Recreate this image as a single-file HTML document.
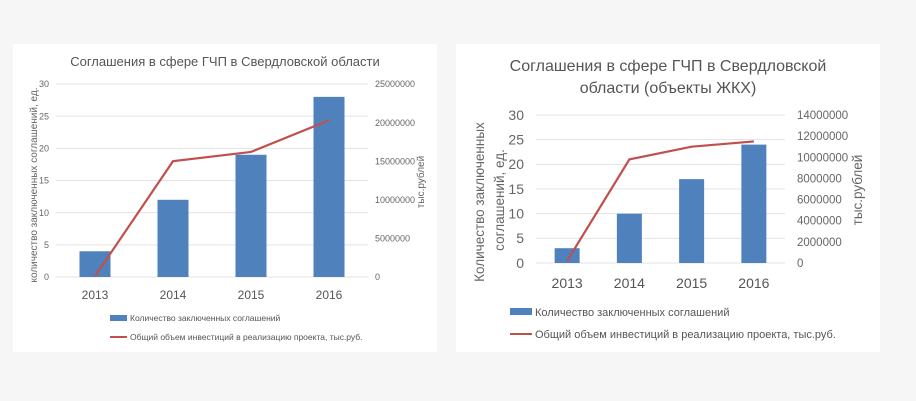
<!DOCTYPE html>
<html><head><meta charset="utf-8"><style>
html,body{margin:0;padding:0;width:916px;height:401px;background:#f6f6f6;overflow:hidden}
svg{position:absolute;left:0;top:0;font-family:"Liberation Sans",sans-serif}
</style></head><body>
<svg id="c" width="916" height="401">
<rect x="13" y="44" width="424" height="308" fill="#fff"/>
<rect x="456" y="44" width="424" height="308" fill="#fff"/>
</svg>
<script>
const years=["2013","2014","2015","2016"];
const leftBars=[4,12,19,28];
const leftLine=[100000,15000000,16200000,20300000];
const leftTicksL=[0,5,10,15,20,25,30];
const leftTicksR=[0,5000000,10000000,15000000,20000000,25000000];
const rightBars=[3,10,17,24];
const rightLine=[200000,9800000,11000000,11500000];
const rightTicksL=[0,5,10,15,20,25,30];
const rightTicksR=[0,2000000,4000000,6000000,8000000,10000000,12000000,14000000];
const NS="http://www.w3.org/2000/svg";
const svg=document.getElementById('c');
function mk(tag,attrs,text){const e=document.createElementNS(NS,tag);for(const k in attrs)e.setAttribute(k,attrs[k]);if(text!==undefined)e.textContent=text;svg.appendChild(e);return e;}
function chart(o){
  const yL=v=>o.y0-(v/o.lMax)*(o.y0-o.y1);
  const yR=v=>o.y0-(v/o.rMax)*(o.y0-o.y1);
  const xC=i=>o.x0+(i+0.5)*(o.x1-o.x0)/years.length;
  o.ticksL.forEach(t=>{
    const g=mk('line',{x1:o.x0,x2:o.x1,y1:yL(t),y2:yL(t),stroke:'#e3e3e3','stroke-width':1});
    
    
    const l=mk('text',{x:o.lx,y:yL(t)+o.fsT*0.35,'text-anchor':'end','font-size':o.fsT,fill:'#666'},t);
    
    
  });
  o.ticksR.forEach(t=>{
    const l=mk('text',{x:o.rx,y:yR(t)+o.fsR*0.35,'font-size':o.fsR,fill:'#666'},t);
    
    
  });
  o.bars.forEach((v,i)=>{
    const b=mk('rect',{x:xC(i)-o.bw/2,y:yL(v),width:o.bw,height:o.y0-yL(v),fill:'#4f81bd'});
    
    
    const t=mk('text',{x:xC(i),y:o.yearY,'text-anchor':'middle','font-size':o.fsY,fill:'#555'},years[i]);
    
    
  });
  const pts=o.line.map((v,i)=>xC(i)+','+yR(v)).join(' ');
  const pl=mk('polyline',{points:pts,fill:'none',stroke:'#c0504d','stroke-width':2.2});
  
  
}
// left
chart({x0:56,x1:368,y0:277,y1:84,lMax:30,rMax:25000000,ticksL:leftTicksL,ticksR:leftTicksR,bars:leftBars,line:leftLine,bw:31,lx:49,rx:375,fsT:9,fsR:9,fsY:12,yearY:299});
// right
chart({x0:536,x1:785,y0:263,y1:115,lMax:30,rMax:14000000,ticksL:rightTicksL,ticksR:rightTicksR,bars:rightBars,line:rightLine,bw:25,lx:524,rx:797,fsT:14,fsR:11.5,fsY:14,yearY:288});
</script>
<svg width="916" height="401" style="pointer-events:none">
<text x="225" y="66" text-anchor="middle" font-size="13" fill="#555">Соглашения в сфере ГЧП в Свердловской  области</text>
<text transform="translate(37,185) rotate(-90)" text-anchor="middle" font-size="10" fill="#666">количество заключенных соглашений,  ед.</text>
<text transform="translate(424,182) rotate(-90)" text-anchor="middle" font-size="10" fill="#666">тыс.рублей</text>
<rect x="110" y="315" width="17" height="6" fill="#4f81bd"/>
<text x="130" y="321" font-size="8.5" fill="#555">Количество заключенных соглашений</text>
<line x1="110" x2="127" y1="337" y2="337" stroke="#c0504d" stroke-width="2"/>
<text x="130" y="340" font-size="8.5" fill="#555">Общий объем инвестиций  в реализацию проекта, тыс.руб.</text>

<text x="668" y="71" text-anchor="middle" font-size="16" fill="#555">Соглашения в сфере ГЧП в Свердловской</text>
<text x="668" y="93" text-anchor="middle" font-size="16" fill="#555">области (объекты ЖКХ)</text>
<text transform="translate(484,202) rotate(-90)" text-anchor="middle" font-size="13.5" fill="#666">Количество заключенных</text>
<text transform="translate(504,200) rotate(-90)" text-anchor="middle" font-size="13.5" fill="#666">соглашений, ед.</text>
<text transform="translate(862,190) rotate(-90)" text-anchor="middle" font-size="13.5" fill="#666">тыс.рублей</text>
<rect x="510" y="308" width="22" height="7" fill="#4f81bd"/>
<text x="535" y="316" font-size="11" fill="#555">Количество заключенных соглашений</text>
<line x1="510" x2="532" y1="334" y2="334" stroke="#c0504d" stroke-width="2"/>
<text x="535" y="338" font-size="11" fill="#555">Общий объем инвестиций  в реализацию проекта, тыс.руб.</text>
</svg>
</body></html>
